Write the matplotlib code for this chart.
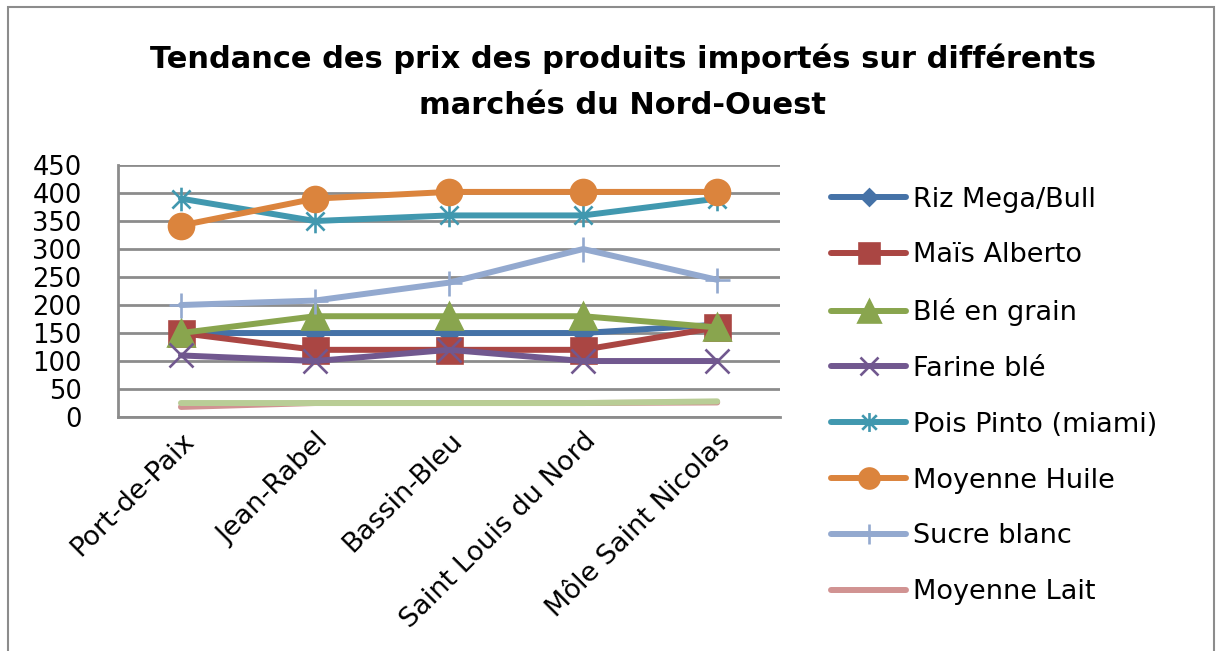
import matplotlib as mpl
from matplotlib import pyplot as plt
from matplotlib.path import Path
from matplotlib.patches import Rectangle
import numpy as np

markets = ['Port-de-Paix', 'Jean-Rabel', 'Bassin-Bleu', 'Saint Louis du Nord', 'Môle Saint Nicolas']

riz = [150, 150, 150, 150, 165]
mais = [150, 120, 120, 120, 160]
ble_grain = [150, 180, 180, 180, 160]
farine = [110, 100, 120, 100, 100]
pois_pinto = [390, 350, 360, 360, 390]
huile = [342, 390, 402, 402, 402]
sucre = [200, 208, 240, 300, 245]
lait = [18, 25, 25, 25, 26]
autre = [25, 25, 25, 25, 28]  # series without legend entry

y_ticks = [0, 50, 100, 150, 200, 250, 300, 350, 400, 450]

# excel style asterisk: an x with a vertical bar
star = Path([(-1, -1), (1, 1), (-1, 1), (1, -1), (0, -1.3), (0, 1.3)],
            [Path.MOVETO, Path.LINETO, Path.MOVETO, Path.LINETO, Path.MOVETO, Path.LINETO])

series = [
    ('Riz Mega/Bull', riz, '#4572A7', 'D', 10, True),
    ('Maïs Alberto', mais, '#AA4643', 's', 18, True),
    ('Blé en grain', ble_grain, '#89A54E', '^', 19, True),
    ('Farine blé', farine, '#71588F', 'x', 17, False),
    ('Pois Pinto (miami)', pois_pinto, '#4198AF', star, 17, False),
    ('Moyenne Huile', huile, '#DB843D', 'o', 18, True),
    ('Sucre blanc', sucre, '#93A9CF', '+', 18, False),
    ('Moyenne Lait', lait, '#D19392', None, 0, True),
    ('_nolegend_', autre, '#B9CD96', None, 0, True),
]

mpl.rcParams['font.family'] = ['DejaVu Sans']
fig = plt.figure(figsize=(12.21, 6.51), dpi=100)
ax = fig.add_axes([0.0966, 0.3594, 0.5424, 0.3871])

x = np.arange(len(markets))
for name, vals, color, marker, ms, filled in series:
    ax.plot(x, vals, color=color, lw=4.3, marker=marker, ms=ms,
            mec=color, mfc=color if filled else 'none', mew=1.9,
            label=name, solid_capstyle='round')

ax.set_xlim(-0.47, 4.47)
ax.set_ylim(0, 450)
ax.set_yticks(y_ticks)
ax.set_yticklabels([str(v) for v in y_ticks], fontsize=18.5)
ax.set_xticks(x)
ax.set_xticklabels(markets, fontsize=19.5, rotation=45, ha='right', va='top',
                   rotation_mode='anchor')
ax.tick_params(axis='both', length=0)
ax.tick_params(axis='x', pad=8)
ax.tick_params(axis='y', pad=26)
ax.grid(axis='y', color='#8c8c8c', lw=2)
ax.set_axisbelow(True)
for s in ['top', 'right']:
    ax.spines[s].set_visible(False)
for s in ['left', 'bottom']:
    ax.spines[s].set_color('#8c8c8c')
    ax.spines[s].set_linewidth(2)

fig.text(0.51, 0.874, 'Tendance des prix des produits importés sur différents\nmarchés du Nord-Ouest',
         ha='center', va='center', fontsize=22, fontweight='bold', linespacing=1.75)

leg = ax.legend(loc='upper left', bbox_to_anchor=(0.672, 0.73), bbox_transform=fig.transFigure,
                frameon=False, fontsize=19.5, labelspacing=1.1, handlelength=2.75,
                handletextpad=0.25, markerscale=0.8, borderaxespad=0)

fig.patches.append(Rectangle((0.0066, -0.01), 0.988, 1.0, transform=fig.transFigure,
                             fill=False, edgecolor='#8c8c8c', lw=1.5))

fig.savefig('out.png', dpi=100)
